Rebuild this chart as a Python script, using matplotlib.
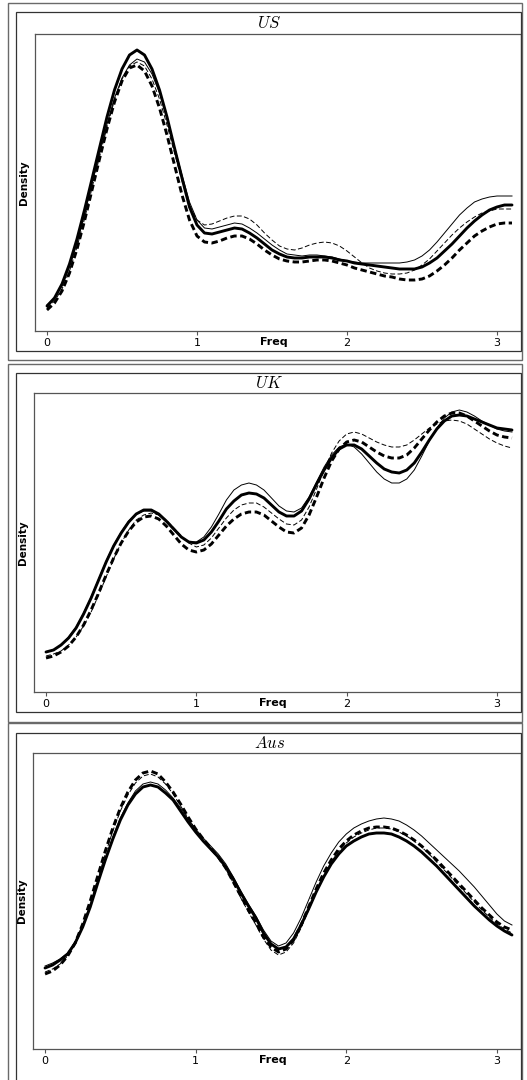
import numpy as np
import matplotlib.pyplot as plt
from matplotlib.patches import Rectangle

plt.rcParams['mathtext.fontset'] = 'cm'

# frequency grid shared by every curve (0 to 3.1, step 0.05)
freq = np.arange(63) * 0.05

# densities (arbitrary units, no y scale shown) - four estimates per country
us_thick = [25, 33, 47, 67, 92, 121, 152, 183, 214, 241,
            262, 276, 281, 276, 262, 241, 214, 183, 153, 124,
            106, 98, 97, 99, 101, 103, 102, 98, 93, 87,
            81, 77, 74, 73, 73, 74, 74, 74, 73, 71,
            70, 68, 67, 66, 65, 64, 63, 62, 62, 62,
            64, 68, 73, 80, 87, 95, 103, 110, 116, 121,
            124, 126, 126]
us_thin = [26, 33, 45, 64, 88, 116, 147, 177, 207, 233,
           253, 266, 272, 269, 257, 238, 213, 184, 156, 129,
           111, 103, 102, 104, 106, 108, 107, 103, 98, 92,
           86, 81, 77, 76, 75, 76, 76, 75, 74, 72,
           70, 69, 68, 68, 68, 68, 68, 68, 69, 71,
           75, 81, 89, 98, 107, 116, 123, 129, 132, 134,
           135, 135, 135]
us_thin_dash = [23, 30, 42, 60, 84, 112, 143, 174, 204, 231,
                252, 265, 269, 265, 252, 232, 206, 178, 150, 126,
                111, 106, 107, 110, 113, 115, 115, 112, 106, 98,
                91, 85, 82, 81, 83, 86, 88, 89, 88, 85,
                80, 74, 68, 63, 60, 58, 57, 57, 58, 61,
                66, 72, 80, 88, 96, 103, 109, 114, 118, 120,
                122, 122, 122]
us_thick_dash = [21, 28, 40, 58, 82, 110, 141, 172, 202, 229,
                 250, 263, 266, 260, 245, 223, 196, 166, 136, 111,
                 95, 89, 88, 90, 93, 95, 95, 92, 87, 81,
                 76, 72, 70, 69, 69, 70, 71, 71, 70, 68,
                 66, 63, 61, 59, 57, 55, 54, 52, 51, 51,
                 52, 55, 60, 66, 73, 81, 88, 95, 100, 104,
                 107, 108, 108]

uk_thick = [40, 42, 47, 54, 64, 78, 94, 112, 130, 146,
            159, 170, 178, 182, 182, 178, 171, 163, 155, 150,
            149, 152, 160, 171, 183, 191, 197, 199, 198, 194,
            187, 180, 176, 176, 181, 193, 208, 222, 234, 243,
            247, 247, 243, 236, 229, 223, 220, 219, 222, 229,
            240, 252, 263, 271, 276, 277, 276, 273, 270, 267,
            264, 263, 262]
uk_thin = [40, 42, 47, 55, 65, 79, 95, 113, 131, 147,
           160, 171, 178, 181, 181, 177, 170, 162, 155, 150,
           150, 155, 165, 178, 192, 202, 207, 209, 207, 202,
           194, 186, 181, 180, 184, 195, 210, 225, 237, 245,
           248, 245, 238, 229, 220, 213, 209, 209, 213, 222,
           236, 251, 264, 274, 280, 282, 280, 276, 271, 267,
           263, 261, 260]
uk_thin_dash = [36, 38, 41, 47, 55, 66, 80, 97, 115, 133,
                149, 162, 172, 177, 179, 177, 172, 164, 156, 149,
                145, 147, 154, 164, 174, 182, 187, 189, 189, 185,
                179, 173, 168, 167, 172, 185, 203, 222, 239, 251,
                258, 260, 258, 254, 250, 247, 245, 245, 247, 252,
                258, 264, 268, 271, 272, 271, 268, 263, 258, 253,
                249, 246, 244]
uk_thick_dash = [34, 36, 40, 46, 55, 67, 82, 99, 117, 134,
                 149, 161, 170, 175, 176, 173, 166, 157, 148, 142,
                 140, 142, 148, 157, 166, 173, 178, 180, 180, 177,
                 171, 165, 160, 159, 164, 177, 195, 214, 231, 243,
                 250, 252, 250, 245, 240, 236, 234, 234, 237, 244,
                 253, 262, 270, 276, 279, 279, 276, 271, 266, 261,
                 257, 255, 254]

aus_thick = [81, 84, 89, 95, 106, 122, 142, 166, 189, 210,
             229, 244, 255, 262, 264, 262, 256, 249, 238, 227,
             217, 208, 200, 192, 182, 170, 156, 143, 131, 116,
             105, 100, 102, 110, 124, 140, 157, 172, 185, 195,
             203, 208, 212, 215, 216, 216, 215, 212, 208, 203,
             197, 190, 183, 175, 167, 159, 151, 143, 136, 129,
             123, 118, 114]
aus_thin = [83, 86, 90, 96, 107, 123, 143, 167, 190, 212,
            231, 246, 258, 265, 267, 265, 259, 251, 241, 230,
            220, 211, 203, 195, 185, 172, 158, 145, 133, 119,
            108, 103, 106, 116, 131, 149, 167, 183, 196, 207,
            215, 221, 225, 228, 230, 231, 230, 228, 224, 219,
            213, 206, 199, 192, 185, 178, 170, 162, 153, 144,
            135, 128, 124]
aus_thin_dash = [77, 80, 85, 93, 105, 123, 145, 170, 195, 218,
                 238, 254, 266, 273, 275, 272, 265, 255, 243, 231,
                 219, 209, 200, 191, 180, 166, 151, 137, 124, 110,
                 99, 94, 97, 106, 121, 139, 157, 173, 187, 198,
                 206, 212, 216, 219, 221, 221, 220, 217, 213, 208,
                 202, 195, 187, 179, 171, 163, 155, 147, 139, 132,
                 125, 120, 116]
aus_thick_dash = [75, 78, 84, 93, 106, 125, 148, 173, 198, 221,
                  241, 257, 269, 276, 278, 275, 267, 257, 245, 232,
                  220, 210, 201, 192, 181, 167, 153, 139, 126, 112,
                  102, 97, 100, 109, 124, 142, 160, 176, 189, 200,
                  208, 214, 218, 221, 222, 222, 221, 218, 214, 209,
                  203, 196, 189, 181, 173, 165, 157, 149, 141, 134,
                  127, 122, 119]

titles = ['US', 'UK', 'Aus']
tick_vals = [0, 1, 2, 3]
panels = [
    (us_thick, us_thin, us_thin_dash, us_thick_dash),
    (uk_thick, uk_thin, uk_thin_dash, uk_thick_dash),
    (aus_thick, aus_thin, aus_thin_dash, aus_thick_dash),
]
ylims = [297, 299, 296]

W, H = 527, 1080
fig = plt.figure(figsize=(W / 100, H / 100), dpi=100)

# pixel layout (left, top, right, bottom): outer box, inner box, axes
outer = [(8, 3, 522, 360), (8, 364, 522, 722), (8, 723, 522, 1090)]
inner = [(16, 12, 521, 351), (16, 373, 521, 712), (16, 733, 521, 1081)]
axbox = [(35, 34, 521, 331), (34, 393, 521, 692), (33, 753, 521, 1049)]


def frect(l, t, r, b):
    return (l / W, 1 - b / H, (r - l) / W, (b - t) / H)


for k in range(3):
    x0, y0, w, h = frect(*outer[k])
    fig.patches.append(Rectangle((x0, y0), w, h, transform=fig.transFigure, fill=False,
                                 edgecolor='#6a6a6a', lw=1.0))
    x0, y0, w, h = frect(*inner[k])
    fig.patches.append(Rectangle((x0, y0), w, h, transform=fig.transFigure, fill=False,
                                 edgecolor='#333333', lw=0.9))

    ax = fig.add_axes(frect(*axbox[k]))
    thick, thin, thin_d, thick_d = panels[k]
    ax.plot(freq, thick, color='black', lw=2.1, solid_capstyle='round')
    ax.plot(freq, thick_d, color='black', lw=2.1, dashes=(2.2, 1.2))
    ax.plot(freq, thin, color='black', lw=0.7)
    ax.plot(freq, thin_d, color='black', lw=0.7, dashes=(5, 2.5))

    ax.set_xlim(-0.08, 3.16)
    ax.set_ylim(0, ylims[k])
    ax.set_yticks([])
    ax.set_xticks(tick_vals)
    ax.set_xticklabels([str(t) for t in tick_vals], fontsize=8)
    ax.tick_params(axis='x', length=3, width=0.8, pad=2, color='#555555')
    for sp in ax.spines.values():
        sp.set_color('#555555')
        sp.set_linewidth(0.9)

    ax.set_ylabel('Density', fontsize=7.5, fontweight='bold', labelpad=4)
    ax.text(1.51, -0.02, 'Freq', transform=ax.get_xaxis_transform(), ha='center', va='top',
            fontsize=8, fontweight='bold')

    il, it, ir, ib = inner[k]
    al, at, ar, ab = axbox[k]
    fig.text((il + ir) / 2 / W + 0.002, 1 - (it + at) / 2 / H, '$' + titles[k] + '$',
             ha='center', va='center', fontsize=12)

fig.savefig('out.png', dpi=100)
